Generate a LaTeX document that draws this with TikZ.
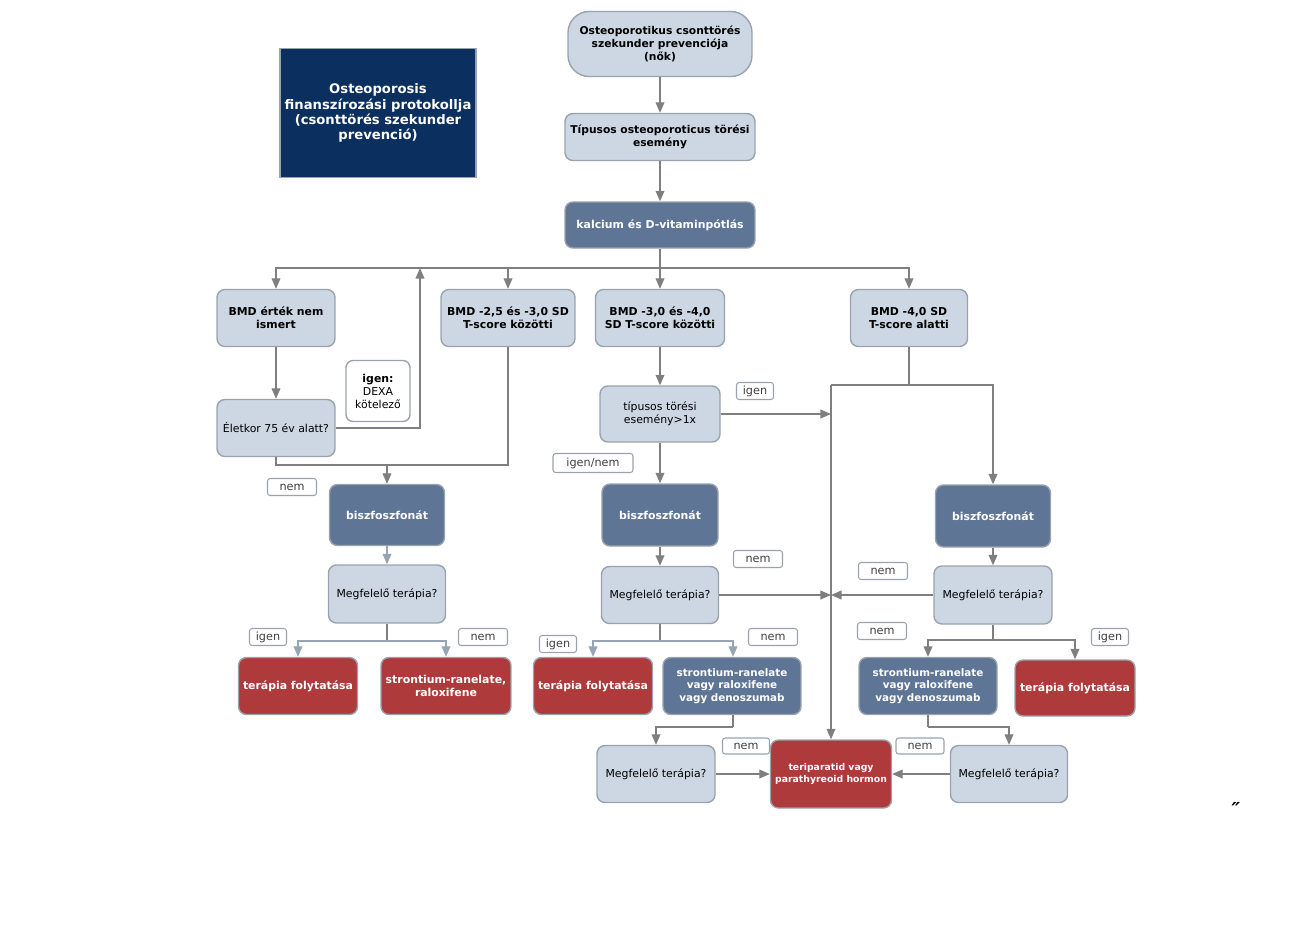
\documentclass[tikz,border=0pt]{standalone}
\usepackage{fontspec}
\setmainfont{DejaVu Sans}
\usetikzlibrary{arrows.meta}
\usetikzlibrary{positioning}

\definecolor{boxlight}{HTML}{CDD7E4}
\definecolor{boxdark}{HTML}{5F7596}
\definecolor{boxred}{HTML}{AE3A3B}
\definecolor{boxnavy}{HTML}{0B2F5E}
\definecolor{lineg}{HTML}{7F7F7F}
\definecolor{linel}{HTML}{97A4B3}
\definecolor{borderg}{HTML}{9AA3AD}

\begin{document}
\begin{tikzpicture}
		[
		x=0.02cm, y=-0.02cm,
		font=\fontsize{6.2}{7.4}\selectfont,
		>={Triangle[length=6pt,width=5pt]}
		]
		
		% Node styles: light, dark, red boxes and labels
		\tikzstyle{box}=[rectangle,rounded corners=4.5pt,draw=borderg,line width=0.8pt,align=center,inner sep=1pt];
		\tikzstyle{light node}=[box,fill=boxlight,text=black];
		\tikzstyle{bold light node}=[light node,font=\fontsize{6.2}{7.4}\selectfont\bfseries];
		\tikzstyle{dark node}=[box,fill=boxdark,text=white,font=\fontsize{6.2}{7.4}\selectfont\bfseries];
		\tikzstyle{red node}=[box,fill=boxred,text=white,font=\fontsize{6.2}{7.4}\selectfont\bfseries];
		\tikzstyle{tag}=[rectangle,rounded corners=1.5pt,draw=borderg,line width=0.6pt,fill=white,
			minimum width=0.98cm,minimum height=0.34cm,inner sep=0pt,text=black!75,font=\fontsize{6.4}{7}\selectfont];
		\tikzstyle{arr}=[->,draw=lineg,line width=0.8pt];
		\tikzstyle{larr}=[->,draw=linel,line width=0.8pt];
		\tikzstyle{line}=[draw=lineg,line width=0.8pt];
		
		\useasboundingbox (0,0) rectangle (1297,931);
		
		% Title and start
		\node(title)[rectangle,draw=borderg,line width=0.6pt,fill=boxnavy,text=white,align=center,inner sep=1pt,
			minimum width=3.92cm,minimum height=2.58cm,font=\fontsize{7.5}{8.7}\selectfont\bfseries]
			at(378,113){Osteoporosis\\finanszírozási protokollja\\(csonttörés szekunder\\prevenció)};
		\node(start)[bold light node,rounded corners=12pt,minimum width=3.68cm,minimum height=1.30cm,
			font=\fontsize{6.1}{7.6}\selectfont\bfseries]
			at(660,44){Osteoporotikus csonttörés\\szekunder prevenciója\\(nők)};
		\node(typ)[bold light node,minimum width=3.80cm,minimum height=0.94cm,font=\fontsize{6.1}{7.4}\selectfont\bfseries]
			at(660,137){Típusos osteoporoticus törési\\esemény};
		\node(kalc)[dark node,minimum width=3.80cm,minimum height=0.92cm]at(660,225){kalcium és D-vitaminpótlás};
		
		% BMD groups
		\node(bmdnem)[bold light node,minimum width=2.36cm,minimum height=1.14cm]at(276,318){BMD érték nem\\ismert};
		\node(bmd25)[bold light node,minimum width=2.68cm,minimum height=1.14cm]at(508,318){BMD -2,5 és -3,0 SD\\T-score közötti};
		\node(bmd30)[bold light node,minimum width=2.58cm,minimum height=1.14cm]at(660,318){BMD -3,0 és -4,0\\SD T-score közötti};
		\node(bmd40)[bold light node,minimum width=2.34cm,minimum height=1.14cm]at(909,318){BMD -4,0 SD\\T-score alatti};
		
		% Left column
		\node(dexa)[box,fill=white,rounded corners=4pt,minimum width=1.28cm,minimum height=1.22cm]
			at(378,391){\textbf{igen:}\\DEXA\\kötelező};
		\node(eletkor)[light node,minimum width=2.36cm,minimum height=1.14cm]at(276,428){Életkor 75 év alatt?};
		\node(bisz1)[dark node,minimum width=2.30cm,minimum height=1.22cm]at(387,515){biszfoszfonát};
		\node(megf1)[light node,minimum width=2.34cm,minimum height=1.16cm]at(387,594){Megfelelő terápia?};
		\node(ter1)[red node,minimum width=2.38cm,minimum height=1.14cm]at(298,686){terápia folytatása};
		\node(str1)[red node,minimum width=2.60cm,minimum height=1.14cm]at(446,686){strontium-ranelate,\\raloxifene};
		
		% Middle column
		\node(tor)[light node,minimum width=2.40cm,minimum height=1.12cm]at(660,414){típusos törési\\esemény>1x};
		\node(bisz2)[dark node,minimum width=2.32cm,minimum height=1.24cm]at(660,515){biszfoszfonát};
		\node(megf2)[light node,minimum width=2.34cm,minimum height=1.14cm]at(660,595){Megfelelő terápia?};
		\node(ter2)[red node,minimum width=2.38cm,minimum height=1.14cm]at(593,686){terápia folytatása};
		\node(str2)[dark node,minimum width=2.76cm,minimum height=1.14cm,font=\fontsize{5.9}{7.1}\selectfont\bfseries]
			at(732,686){strontium-ranelate\\vagy raloxifene\\vagy denoszumab};
		\node(megf4)[light node,minimum width=2.36cm,minimum height=1.14cm]at(656,774){Megfelelő terápia?};
		\node(teri)[red node,minimum width=2.42cm,minimum height=1.36cm,font=\fontsize{5.3}{6.8}\selectfont\bfseries]
			at(831,774){teriparatid vagy\\parathyreoid hormon};
		
		% Right column
		\node(bisz3)[dark node,minimum width=2.30cm,minimum height=1.24cm]at(993,516){biszfoszfonát};
		\node(megf3)[light node,minimum width=2.36cm,minimum height=1.16cm]at(993,595){Megfelelő terápia?};
		\node(str3)[dark node,minimum width=2.76cm,minimum height=1.14cm,font=\fontsize{5.9}{7.1}\selectfont\bfseries]
			at(928,686){strontium-ranelate\\vagy raloxifene\\vagy denoszumab};
		\node(ter3)[red node,minimum width=2.40cm,minimum height=1.12cm]at(1075,688){terápia folytatása};
		\node(megf5)[light node,minimum width=2.34cm,minimum height=1.14cm]at(1009,774){Megfelelő terápia?};
		
		% Junction points
		\coordinate(split)at(660,268);
		\coordinate(up)at(420,268);
		\coordinate(j1)at(387,465);
		\coordinate(s1)at(387,641);
		\coordinate(s2)at(660,641);
		\coordinate(s3)at(993,640);
		\coordinate(s4)at(909,385);
		\coordinate(vtop)at(831,385);
		\coordinate(vtor)at(831,414);
		\coordinate(vmid)at(831,595);
		\coordinate(d2)at(733,727);
		\coordinate(d3)at(928,727);
		
		% Connectors
		\draw[arr](start)--(typ);
		\draw[arr](typ)--(kalc);
		\draw[line](kalc)--(split);
		\draw[arr](split)-|(bmdnem);
		\draw[arr](split)-|(bmd25);
		\draw[arr](split)--(bmd30);
		\draw[arr](split)-|(bmd40);
		\draw[arr](bmdnem)--(eletkor);
		\draw[arr](eletkor)-|(up);
		\draw[line](eletkor)|-(j1);
		\draw[line](bmd25)|-(j1);
		\draw[arr](j1)--(bisz1);
		\draw[larr](bisz1)--(megf1);
		\draw[line](megf1)--(s1);
		\draw[larr](s1)-|(ter1);
		\draw[larr](s1)-|(str1);
		% middle
		\draw[arr](bmd30)--(tor);
		\draw[arr](tor)--(vtor);
		\draw[arr](tor)--(bisz2);
		\draw[arr](bisz2)--(megf2);
		\draw[arr](megf2)--(vmid);
		\draw[line](megf2)--(s2);
		\draw[larr](s2)-|(ter2);
		\draw[larr](s2)-|(str2.north east -| d2);
		\draw[line](str2.south -| d2)--(d2);
		\draw[arr](d2)-|(megf4);
		\draw[arr](megf4)--(teri);
		% right
		\draw[line](bmd40)--(s4);
		\draw[line](s4)--(vtop);
		\draw[arr](vtop)--(teri);
		\draw[arr](s4)-|(bisz3);
		\draw[arr](bisz3)--(megf3);
		\draw[arr](megf3)--(vmid);
		\draw[line](megf3)--(s3);
		\draw[arr](s3)-|(str3);
		\draw[arr](s3)-|(ter3);
		\draw[line](str3)--(d3);
		\draw[arr](d3)-|(megf5);
		\draw[arr](megf5)--(teri);
		
		% Labels
		\node(lnem1)[tag]at(292,487){nem};
		\node(ligen1)[tag,minimum width=0.74cm]at(268,637){igen};
		\node(lnem1b)[tag]at(483,637){nem};
		\node(ligentor)[tag,minimum width=0.74cm]at(755,391){igen};
		\node(ligennem)[tag,minimum width=1.60cm,minimum height=0.38cm]at(593,463){igen/nem};
		\node(lnem2a)[tag]at(758,559){nem};
		\node(ligen2)[tag,minimum width=0.74cm]at(558,644){igen};
		\node(lnem2b)[tag]at(773,637){nem};
		\node(lnem3a)[tag]at(883,571){nem};
		\node(lnem3b)[tag]at(882,631){nem};
		\node(ligen3)[tag,minimum width=0.74cm]at(1110,637){igen};
		\node(lnem4)[tag,minimum width=0.94cm,minimum height=0.32cm]at(746,746){nem};
		\node(lnem5)[tag,minimum width=0.96cm,minimum height=0.32cm]at(920,746){nem};
		
		% Stray mark
		\node(mark)[font=\fontsize{11}{11}\selectfont\bfseries\itshape]at(1236,809){\symbol{"2033}};
\end{tikzpicture}
\end{document}
